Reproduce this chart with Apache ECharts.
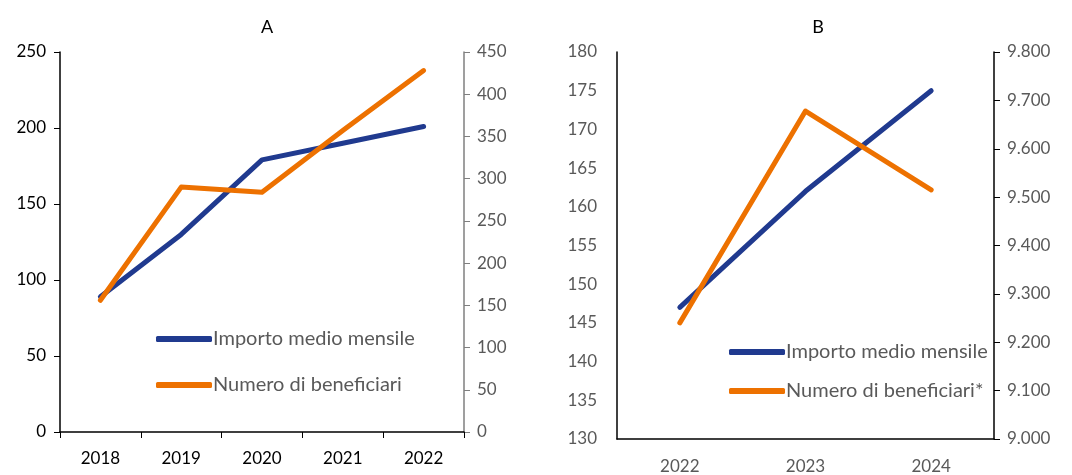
<!DOCTYPE html>
<html><head><meta charset="utf-8">
<script src="https://cdn.jsdelivr.net/npm/echarts@6/dist/echarts.min.js"></script>
<style>html,body{margin:0;padding:0;background:#fff}#c{width:1072px;height:475px}</style>
</head><body><div id="c"></div>
<script>
const yearsA = ['2018','2019','2020','2021','2022'];
const importoA = [89, 130, 179, 190, 201];
const beneficiariA = [156, 290, 284, 357, 428];
const yearsB = ['2022','2023','2024'];
const importoB = [147, 162, 175];
const beneficiariB = [9240, 9678, 9515];
const nameImporto = 'Importo medio mensile';
const nameBenA = 'Numero di beneficiari';
const nameBenB = 'Numero di beneficiari*';

const BLUE = '#203a8f', ORANGE = '#ed7100', GRAY = '#595959';
const FONT = 'Lato';
const chart = echarts.init(document.getElementById('c'));
const itFmt = v => String(v).replace(/\B(?=(\d{3})+(?!\d))/g, '.');
function lineS(name, data, x, y, color){
  return {type:'line', name, data, xAxisIndex:x, yAxisIndex:y, symbol:'none',
    lineStyle:{color, width:5, cap:'round', join:'round'}, itemStyle:{color}, silent:true, animation:false};
}
chart.setOption({
  animation:false,
  textStyle:{fontFamily:FONT},
  title:[
    {text:'A', left:262, top:13, textAlign:'center', textStyle:{fontFamily:FONT, fontWeight:'normal', fontSize:18, color:'#000'}},
    {text:'B', left:813, top:13, textAlign:'center', textStyle:{fontFamily:FONT, fontWeight:'normal', fontSize:18, color:'#000'}}
  ],
  grid:[
    {left:60, right:608, top:52, bottom:43},
    {left:617, right:78, top:52, bottom:34}
  ],
  legend:[
    {data:[nameImporto, nameBenA], orient:'vertical', left:151, top:324, itemWidth:56, itemHeight:6, itemGap:26,
     icon:'roundRect', textStyle:{fontFamily:FONT, fontSize:20, color:GRAY, padding:[0,0,0,-4]}},
    {data:[nameImporto, nameBenB], orient:'vertical', left:724, top:337, itemWidth:56, itemHeight:6, itemGap:19,
     icon:'roundRect', textStyle:{fontFamily:FONT, fontSize:20, color:GRAY, padding:[0,0,0,-4]}}
  ],
  xAxis:[
    {type:'category', gridIndex:0, data:yearsA, boundaryGap:true,
     axisLine:{lineStyle:{color:'#000', width:1.5}}, axisTick:{show:true, length:6, lineStyle:{color:'#000'}},
     axisLabel:{fontFamily:FONT, fontSize:17, color:'#000', margin:18}, splitLine:{show:false}},
    {type:'category', gridIndex:1, data:yearsB, boundaryGap:true,
     axisLine:{lineStyle:{color:'#000', width:1.5}}, axisTick:{show:false},
     axisLabel:{fontFamily:FONT, fontSize:17, color:GRAY, margin:19}, splitLine:{show:false}}
  ],
  yAxis:[
    {type:'value', gridIndex:0, min:0, max:250, interval:50, position:'left',
     axisLine:{show:true, lineStyle:{color:'#000', width:1.5}}, axisTick:{show:true, length:6, lineStyle:{color:'#000'}},
     axisLabel:{fontFamily:FONT, fontSize:17, color:'#000', margin:14}, splitLine:{show:false}},
    {type:'value', gridIndex:0, min:0, max:450, interval:50, position:'right',
     axisLine:{show:true, lineStyle:{color:'#7f7f7f', width:1.5}}, axisTick:{show:true, length:6, lineStyle:{color:'#7f7f7f'}},
     axisLabel:{fontFamily:FONT, fontSize:17, color:GRAY, margin:13}, splitLine:{show:false}},
    {type:'value', gridIndex:1, min:130, max:180, interval:5, position:'left',
     axisLine:{show:true, lineStyle:{color:'#000', width:1.5}}, axisTick:{show:false},
     axisLabel:{fontFamily:FONT, fontSize:17, color:GRAY, margin:20}, splitLine:{show:false}},
    {type:'value', gridIndex:1, min:9000, max:9800, interval:100, position:'right',
     axisLine:{show:true, lineStyle:{color:'#000', width:1.5}}, axisTick:{show:true, length:6, lineStyle:{color:'#000'}},
     axisLabel:{fontFamily:FONT, fontSize:17, color:GRAY, margin:13, formatter:itFmt}, splitLine:{show:false}}
  ],
  series:[
    lineS(nameImporto, importoA, 0, 0, BLUE),
    lineS(nameBenA, beneficiariA, 0, 1, ORANGE),
    lineS(nameImporto, importoB, 1, 2, BLUE),
    lineS(nameBenB, beneficiariB, 1, 3, ORANGE)
  ]
});
</script></body></html>
